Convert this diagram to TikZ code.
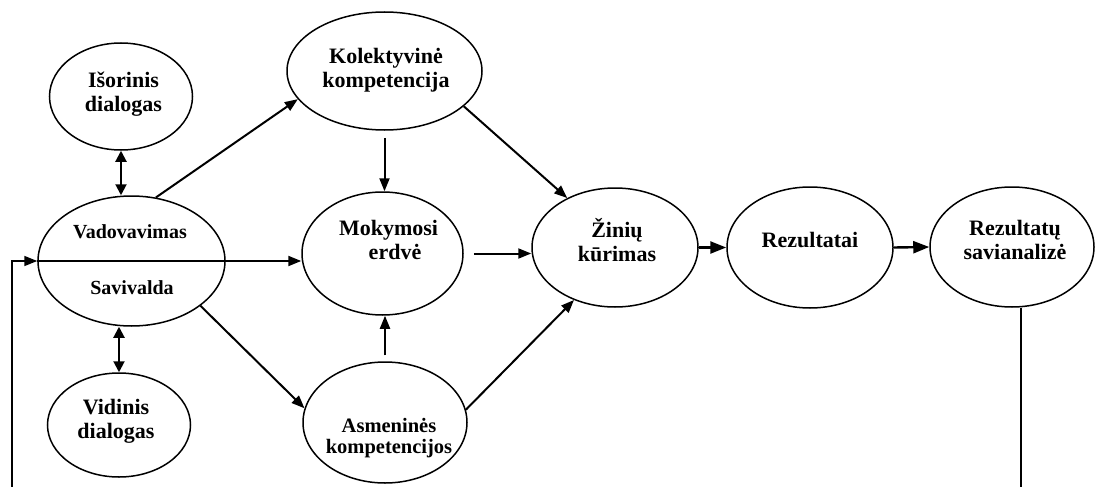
\documentclass[tikz,border=0pt]{standalone}
\usepackage{fontspec}
\setmainfont{Liberation Serif}
\usetikzlibrary{shapes.geometric,arrows.meta}
\begin{document}
\begin{tikzpicture}[x=1pt,y=-1pt,
  oval/.style={ellipse,draw,line width=1.5pt,inner sep=0pt},
  lbl/.style={font=\bfseries\fontsize{22}{24}\selectfont,align=center,inner sep=0pt},
  small/.style={lbl,font=\bfseries\fontsize{20}{22}\selectfont},
  arr/.style={line width=2pt,-{Triangle[length=13pt,width=10pt]}},
  bigarr/.style={line width=2.4pt,-{Triangle[length=16pt,width=12pt]}},
  dbl/.style={line width=2pt,{Triangle[length=11pt,width=11pt]}-{Triangle[length=11pt,width=11pt]}}]
\useasboundingbox (0,0) rectangle (1095,487);
\clip (0,0) rectangle (1095,487);

% ellipses
\node[oval,minimum width=143pt,minimum height=107pt] (isor) at (121,96.5) {};
\node[oval,minimum width=187pt,minimum height=130pt] (vad) at (131.5,261) {};
\node[oval,minimum width=143pt,minimum height=104pt] (vid) at (119,425) {};
\node[oval,minimum width=195pt,minimum height=118pt] (kol) at (384.5,71) {};
\node[oval,minimum width=161pt,minimum height=123pt] (mok) at (382.5,253.5) {};
\node[oval,minimum width=164pt,minimum height=121pt] (asm) at (385,422.5) {};
\node[oval,minimum width=166pt,minimum height=119pt] (zin) at (615,247.5) {};
\node[oval,minimum width=166pt,minimum height=121pt] (rez) at (810,247.5) {};
\node[oval,minimum width=164pt,minimum height=120pt] (sav) at (1012,247) {};

% labels
\node[lbl] (isorT) at (123.5,94) {Išorinis\\dialogas};
\node[small] (vadT) at (130,232) {Vadovavimas};
\node[small] (savT) at (132,288) {Savivalda};
\node[lbl] (vidT) at (116,421) {Vidinis\\dialogas};
\node[lbl] (kolT) at (386,70) {Kolektyvinė\\kompetencija};
\node[lbl] (mokT) at (388.5,240) {Mokymosi\\\hspace*{13pt}erdvė};
\node[lbl,font=\bfseries\fontsize{20.5}{21}\selectfont] (asmT) at (389,438) {Asmeninės\\kompetencijos};
\node[lbl] (zinT) at (617,240) {Žinių\\kūrimas};
\node[lbl] (rezT) at (810,240) {Rezultatai};
\node[lbl] (savaT) at (1015,240) {Rezultatų\\savianalizė};

% connectors
\draw[dbl] (isor.south) -- (isor.south |- vad.north);
\draw[dbl] (vid.north |- vad.south) -- (vid.north);
\draw[arr] (vad.west) -- (vad.east -| mok.west);
\coordinate (loop) at (12,505);
\draw[arr,line width=1.6pt] ([xshift=9pt]sav.south) |- (loop) |- (vad.west);
\draw[arr] (vad.69) -- (kol.198);
\draw[arr] (vad.-33) -- (asm.170);
\draw[arr,shorten <=7pt] (kol.south) -- (kol.south |- mok.north);
\draw[arr,shorten <=6pt] (asm.north) -- (asm.north |- mok.south);
\draw[arr,shorten <=10pt] (mok.east) -- (mok.east -| zin.west);
\draw[arr] (kol.-24) -- (zin.134);
\draw[arr] (asm.9) -- (zin.232);
\draw[bigarr] (zin.east) -- (rez.west);
\draw[bigarr] (rez.east) -- (sav.west);
\end{tikzpicture}
\end{document}
